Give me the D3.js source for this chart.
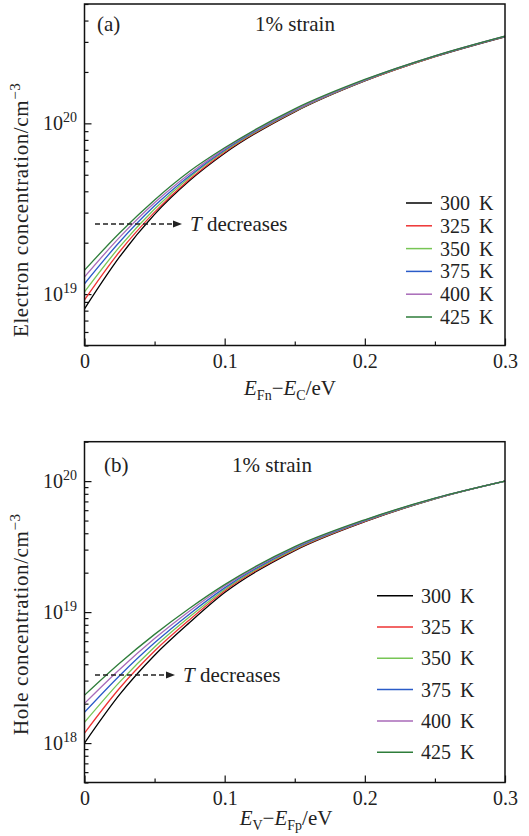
<!DOCTYPE html>
<html>
<head>
<meta charset="utf-8">
<script src="https://cdn.jsdelivr.net/npm/d3@7"></script>
<style>
body { margin: 0; background: #fff; }
svg { display: block; }
text { font-family: "Liberation Serif", "Times New Roman", serif; fill: #222; }
</style>
</head>
<body>
<script>

const energy = [0, 0.025, 0.05, 0.075, 0.1, 0.15, 0.2, 0.25, 0.3];
const tempLabels = ["300 K", "325 K", "350 K", "375 K", "400 K", "425 K"];
const lineColors = ["#000000", "#ee3333", "#77c555", "#2a5bc8", "#a86ab8", "#2e7d3a"];

// panel (a) electron concentration, cm^-3
const electron300 = [8.2e18, 1.65e19, 2.93e19, 4.62e19, 6.68e19, 1.168e20, 1.771e20, 2.457e20, 3.214e20];
const electron325 = [9.25e18, 1.77e19, 3.02e19, 4.70e19, 6.78e19, 1.176e20, 1.777e20, 2.463e20, 3.221e20];
const electron350 = [1.03e19, 1.89e19, 3.15e19, 4.84e19, 6.88e19, 1.183e20, 1.784e20, 2.468e20, 3.228e20];
const electron375 = [1.15e19, 2.02e19, 3.29e19, 4.94e19, 6.98e19, 1.192e20, 1.791e20, 2.475e20, 3.234e20];
const electron400 = [1.26e19, 2.15e19, 3.43e19, 5.07e19, 7.09e19, 1.200e20, 1.799e20, 2.482e20, 3.239e20];
const electron425 = [1.38e19, 2.28e19, 3.56e19, 5.24e19, 7.19e19, 1.216e20, 1.807e20, 2.488e20, 3.245e20];

// panel (b) hole concentration, cm^-3
const hole300 = [1.00e18, 2.34e18, 4.68e18, 8.32e18, 1.41e19, 2.95e19, 4.90e19, 7.33e19, 1.0e20];
const hole325 = [1.19e18, 2.62e18, 5.04e18, 8.75e18, 1.45e19, 2.99e19, 4.93e19, 7.35e19, 1.0e20];
const hole350 = [1.44e18, 2.92e18, 5.42e18, 9.20e18, 1.49e19, 3.03e19, 4.97e19, 7.36e19, 1.0e20];
const hole375 = [1.72e18, 3.27e18, 5.83e18, 9.68e18, 1.53e19, 3.08e19, 5.00e19, 7.38e19, 1.0e20];
const hole400 = [2.01e18, 3.65e18, 6.28e18, 1.02e19, 1.58e19, 3.12e19, 5.04e19, 7.40e19, 1.0e20];
const hole425 = [2.32e18, 4.07e18, 6.76e18, 1.07e19, 1.62e19, 3.16e19, 5.07e19, 7.41e19, 1.0e20];

const xTicks = [0, 0.1, 0.2, 0.3];
const xMinorTicks = [0.05, 0.15, 0.25];

const W = 529, H = 836;
const FONT = '"Liberation Serif", "Times New Roman", serif';

const svg = d3.select("body").append("svg")
    .attr("width", W)
    .attr("height", H);

const xScale = d3.scaleLinear().domain([0, 0.3]).range([84.5, 505]);

const line = (y) => d3.line()
    .x((d, i) => xScale(energy[i]))
    .y(d => y(d))
    .curve(d3.curveMonotoneX);

function styleAxis(a) {
    a.attr("font-family", null).attr("font-size", null);
    a.select(".domain").remove();
    a.selectAll("line").attr("stroke", "#111").attr("stroke-width", 1.2);
    a.selectAll("text").attr("font-size", 20).attr("fill", "#222");
}

function drawPanel(p) {
    const g = svg.append("g");
    const y = d3.scaleLog().domain(p.yDomain).range([p.bottom, p.top]);

    // x ticks (inward)
    g.append("g")
        .attr("transform", "translate(0," + p.bottom + ")")
        .call(d3.axisBottom(xScale).tickValues(xTicks).tickSize(-7).tickPadding(8)
            .tickFormat(d => d === 0 ? "0" : d3.format(".1f")(d)))
        .call(styleAxis);
    g.append("g")
        .attr("transform", "translate(0," + p.bottom + ")")
        .call(d3.axisBottom(xScale).tickValues(xMinorTicks).tickSize(-4).tickFormat(""))
        .call(styleAxis);

    // y ticks, decades + minor
    const lo = Math.floor(Math.log10(p.yDomain[0])), hi = Math.ceil(Math.log10(p.yDomain[1]));
    const majors = [], minors = [];
    for (let n = lo; n <= hi; n++) {
        const v = Math.pow(10, n);
        if (v >= p.yDomain[0] && v <= p.yDomain[1]) majors.push(v);
        for (let m = 2; m <= 9; m++) {
            const w = m * v;
            if (w >= p.yDomain[0] && w <= p.yDomain[1]) minors.push(w);
        }
    }
    g.append("g")
        .attr("transform", "translate(" + xScale(0) + ",0)")
        .call(d3.axisLeft(y).tickValues(majors).tickSize(-7).tickFormat(""))
        .call(styleAxis);
    g.append("g")
        .attr("transform", "translate(" + xScale(0) + ",0)")
        .call(d3.axisLeft(y).tickValues(minors).tickSize(-4).tickFormat(""))
        .call(styleAxis);

    const yl = g.selectAll(".ylab").data(majors).enter().append("text")
        .attr("class", "ylab")
        .attr("x", 77)
        .attr("y", d => y(d) + 7)
        .attr("text-anchor", "end")
        .attr("font-size", 20);
    yl.append("tspan").text("10");
    yl.append("tspan").attr("dy", -8).attr("font-size", 14).text(d => Math.round(Math.log10(d)));

    // curves
    p.series.forEach((s, i) => {
        g.append("path")
            .datum(s)
            .attr("fill", "none")
            .attr("stroke", lineColors[i])
            .attr("stroke-width", 1.3)
            .attr("d", line(y));
    });

    // frame
    g.append("rect")
        .attr("x", xScale(0)).attr("y", p.top)
        .attr("width", xScale(0.3) - xScale(0)).attr("height", p.bottom - p.top)
        .attr("fill", "none").attr("stroke", "#111").attr("stroke-width", 1.5);

    // legend
    tempLabels.forEach((t, i) => {
        const ly = p.legY + i * p.legStep;
        g.append("line")
            .attr("x1", p.legX1).attr("x2", p.legX2)
            .attr("y1", ly).attr("y2", ly)
            .attr("stroke", lineColors[i]).attr("stroke-width", 1.5);
        g.append("text")
            .attr("x", p.legX2 + 8).attr("y", ly + 7)
            .attr("font-size", 20)
            .attr("xml:space", "preserve")
            .text(t.replace(" ", "\u2009 "));
    });

    // panel tag and strain
    g.append("text").attr("x", p.tagX).attr("y", p.tagY).attr("font-size", 21).text(p.tag);
    g.append("text").attr("x", p.strainX).attr("y", p.tagY).attr("font-size", 21).text("1% strain");

    // T decreases arrow
    g.append("line")
        .attr("x1", 95).attr("x2", p.arrowX - 8)
        .attr("y1", p.arrowY).attr("y2", p.arrowY)
        .attr("stroke", "#222").attr("stroke-width", 1.4)
        .attr("stroke-dasharray", "5,3");
    g.append("path")
        .attr("d", "M" + p.arrowX + "," + p.arrowY + "L" + (p.arrowX - 9) + "," + (p.arrowY - 3.5) +
            "L" + (p.arrowX - 9) + "," + (p.arrowY + 3.5) + "Z")
        .attr("fill", "#222");
    const td = g.append("text").attr("x", p.arrowX + 8).attr("y", p.arrowY + 7).attr("font-size", 21);
    td.append("tspan").attr("font-style", "italic").text("T");
    td.append("tspan").text(" decreases");

    // y label
    const ylab = g.append("text")
        .attr("transform", "translate(28," + p.yLabStart + ") rotate(-90)")
        .attr("font-size", 21)
        .attr("letter-spacing", 0.6);
    ylab.append("tspan").text(p.yLabel + " concentration/cm");
    ylab.append("tspan").attr("dy", -8).attr("font-size", 15).text("\u22123");

    // x label
    const xl = g.append("text")
        .attr("x", p.xLabX).attr("y", p.xLabY)
        .attr("text-anchor", "middle")
        .attr("font-size", 21);
    p.xLabel.forEach(part => {
        const t = xl.append("tspan").text(part.t);
        if (part.it) t.attr("font-style", "italic");
        if (part.sub) t.attr("font-size", 14);
        if (part.dy) t.attr("dy", part.dy);
    });
}

drawPanel({
    top: 4, bottom: 345.5, yDomain: [5e18, 5e20],
    series: [electron300, electron325, electron350, electron375, electron400, electron425],
    legX1: 406, legX2: 432, legY: 203, legStep: 22.8,
    tag: "(a)", tagX: 97, tagY: 31, strainX: 255,
    arrowX: 182, arrowY: 224,
    yLabel: "Electron", yLabStart: 337,
    xLabX: 290, xLabY: 395,
    xLabel: [{t: "E", it: true}, {t: "Fn", sub: true, dy: 5}, {t: "\u2212", dy: -5},
        {t: "E", it: true}, {t: "C", sub: true, dy: 5}, {t: "/eV", dy: -5}]
});

drawPanel({
    top: 441.7, bottom: 782.5, yDomain: [5e17, 2e20],
    series: [hole300, hole325, hole350, hole375, hole400, hole425],
    legX1: 377, legX2: 413, legY: 595.7, legStep: 31.3,
    tag: "(b)", tagX: 104, tagY: 472, strainX: 232,
    arrowX: 175, arrowY: 675,
    yLabel: "Hole", yLabStart: 735,
    xLabX: 286, xLabY: 825,
    xLabel: [{t: "E", it: true}, {t: "V", sub: true, dy: 5}, {t: "\u2212", dy: -5},
        {t: "E", it: true}, {t: "Fp", sub: true, dy: 5}, {t: "/eV", dy: -5}]
});

</script>
</body>
</html>
